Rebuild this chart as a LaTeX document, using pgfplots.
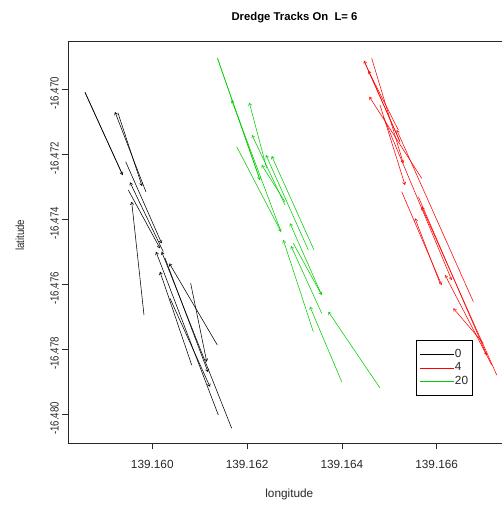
\documentclass[border=0pt]{standalone}
\usepackage{fontspec}
\setmainfont{Liberation Sans}
\usepackage{graphicx}
\usepackage{pgfplots}
\pgfplotsset{compat=1.18}
\usetikzlibrary{arrows.meta}
\definecolor{rgreen}{RGB}{0,205,0}
\definecolor{rred}{RGB}{255,0,0}
\definecolor{txt}{RGB}{40,40,40}
\tikzset{ah/.style={-{Straight Barb[length=2.5pt,width=3.2pt]}}}
\newcommand{\seg}[5]{\addplot[#1,line width=0.55pt,ah,forget plot] coordinates {(#2,#3) (#4,#5)};}
\newcommand{\segl}[5]{\addplot[#1,line width=0.55pt,legend image code/.code={\path (-5pt,0pt) -- (28.7pt,0pt);\draw[#1, line width=0.6pt] (0pt,0pt) -- (20pt,0pt);}] coordinates {(#2,#3) (#4,#5)};}
\newcommand{\vs}[1]{\scalebox{0.82}[1]{#1}}
\begin{document}
\begin{tikzpicture}
\begin{axis}[
  at={(0pt,0pt)}, anchor=south west, scale only axis,
  width=433.7pt, height=401.6pt,
  xmin=139.158228, xmax=139.167378,
  ymin=-16.480892, ymax=-16.468535,
  axis x line=box, axis y line=left,
  x axis line style={-}, y axis line style={-},
  axis line style={txt, line width=0.7pt},
  xtick pos=left, ytick pos=left,
  tick align=outside, major tick length=6pt,
  tick style={txt, line width=0.7pt},
  xtick={139.160,139.162,139.164,139.166},
  xticklabels={139.160,139.162,139.164,139.166},
  ytick={-16.480,-16.478,-16.476,-16.474,-16.472,-16.470},
  yticklabels={\vs{-16.480},\vs{-16.478},\vs{-16.476},\vs{-16.474},\vs{-16.472},\vs{-16.470}},
  ticklabel style={font=\fontsize{11.8}{12}\selectfont, text=txt},
  xticklabel style={yshift=-7pt},
  yticklabel style={rotate=90, anchor=south, xshift=-4pt},
  legend style={at={(0.8017,0.1185)}, anchor=south west, draw,
    fill=white, font=\fontsize{11.8}{12}\selectfont,
    inner xsep=3.5pt, inner ysep=7pt, row sep=0pt,
    nodes={inner xsep=1pt, inner ysep=1.4pt, text height=8.5pt, text depth=2.5pt}},
  legend cell align=left,
]
% L = 0 (black)
\segl{black}{139.158580}{-16.470092}{139.159375}{-16.472637}
\addlegendentry{\textcolor{txt}{0}}
\seg{black}{139.158580}{-16.470092}{139.159375}{-16.472637}
\seg{black}{139.159867}{-16.473160}{139.159213}{-16.470698}
\seg{black}{139.159276}{-16.470729}{139.159783}{-16.472975}
\seg{black}{139.159439}{-16.472228}{139.160198}{-16.474739}
\seg{black}{139.160232}{-16.474997}{139.159529}{-16.472862}
\seg{black}{139.159494}{-16.473099}{139.160162}{-16.474892}
\seg{black}{139.159825}{-16.476945}{139.159565}{-16.473459}
\seg{black}{139.161393}{-16.480022}{139.160078}{-16.474997}
\seg{black}{139.161675}{-16.480431}{139.160198}{-16.474997}
\seg{black}{139.161372}{-16.477868}{139.160359}{-16.475354}
\seg{black}{139.160831}{-16.478483}{139.160162}{-16.475612}
\seg{black}{139.160373}{-16.476431}{139.161217}{-16.479151}
\seg{black}{139.160810}{-16.475969}{139.161148}{-16.478382}
\seg{black}{139.160268}{-16.475191}{139.161175}{-16.478699}
% L = 4 (red)
\segl{rred}{139.165226}{-16.471612}{139.164467}{-16.469120}
\addlegendentry{\textcolor{txt}{4}}
\seg{rred}{139.165226}{-16.471612}{139.164467}{-16.469120}
\seg{rred}{139.164629}{-16.469046}{139.165296}{-16.472277}
\seg{rred}{139.165191}{-16.471252}{139.164558}{-16.469428}
\seg{rred}{139.165684}{-16.472739}{139.164579}{-16.470228}
\seg{rred}{139.164804}{-16.470483}{139.165332}{-16.472945}
\seg{rred}{139.164874}{-16.470843}{139.166317}{-16.475868}
\seg{rred}{139.166773}{-16.476536}{139.165157}{-16.471252}
\seg{rred}{139.165262}{-16.473151}{139.166106}{-16.476022}
\seg{rred}{139.166070}{-16.475969}{139.165543}{-16.473969}
\seg{rred}{139.167267}{-16.478791}{139.165684}{-16.473612}
\seg{rred}{139.165613}{-16.473305}{139.167056}{-16.478176}
\seg{rred}{139.167161}{-16.478483}{139.166176}{-16.475714}
\seg{rred}{139.166984}{-16.477816}{139.166351}{-16.476739}
% L = 20 (green)
\segl{rgreen}{139.161376}{-16.469046}{139.162272}{-16.472791}
\addlegendentry{\textcolor{txt}{20}}
\seg{rgreen}{139.161376}{-16.469046}{139.162272}{-16.472791}
\seg{rgreen}{139.162716}{-16.474382}{139.161675}{-16.470329}
\seg{rgreen}{139.162414}{-16.472431}{139.162047}{-16.470412}
\seg{rgreen}{139.162800}{-16.473560}{139.162104}{-16.471406}
\seg{rgreen}{139.161781}{-16.471766}{139.162716}{-16.474382}
\seg{rgreen}{139.162800}{-16.473459}{139.162308}{-16.472329}
\seg{rgreen}{139.163292}{-16.474945}{139.162399}{-16.472022}
\seg{rgreen}{139.163412}{-16.474945}{139.162519}{-16.472052}
\seg{rgreen}{139.163574}{-16.476329}{139.162905}{-16.474123}
\seg{rgreen}{139.162975}{-16.474739}{139.163574}{-16.476329}
\seg{rgreen}{139.163397}{-16.477459}{139.162764}{-16.474637}
\seg{rgreen}{139.163574}{-16.476892}{139.162927}{-16.474822}
\seg{rgreen}{139.163996}{-16.478997}{139.163327}{-16.476689}
\seg{rgreen}{139.164804}{-16.479191}{139.163714}{-16.476843}
\end{axis}
\node[font=\bfseries\fontsize{11.3}{12}\selectfont, text=black] at (226.2pt,426pt) {Dredge Tracks On\ \ L= 6};
\node[font=\fontsize{11.8}{12}\selectfont, text=txt] at (221pt,-51pt) {longitude};
\node[font=\fontsize{11.8}{12}\selectfont, text=txt, rotate=90] at (-48.3pt,208pt) {\vs{latitude}};
\pgfresetboundingbox
\path[use as bounding box] (-68.3pt,-61.7pt) rectangle (433.7pt,443.3pt);
\end{tikzpicture}
\end{document}
